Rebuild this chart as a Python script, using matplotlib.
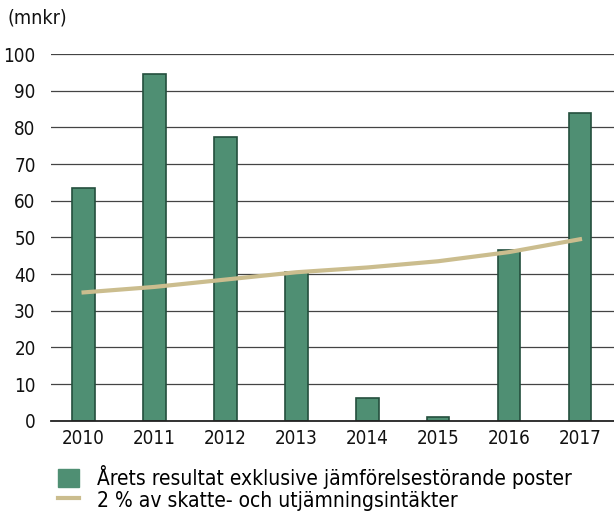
import matplotlib
matplotlib.use("Agg")
import matplotlib.pyplot as plt
from matplotlib.patches import Patch
from matplotlib.lines import Line2D

# data (mnkr)
years = ["2010", "2011", "2012", "2013", "2014", "2015", "2016", "2017"]
resultat = [63.5, 94.5, 77.5, 40.5, 6.2, 1.0, 46.5, 84.0]
two_pct = [35.0, 36.5, 38.5, 40.5, 41.8, 43.5, 46.0, 49.5]
yticks = [0, 10, 20, 30, 40, 50, 60, 70, 80, 90, 100]

bar_color = "#4f8f73"
edge_color = "#244f3d"
line_color = "#cbbd8e"

plt.rcParams["font.family"] = ["DejaVu Sans"]
plt.rcParams["font.stretch"] = "condensed"

fig = plt.figure(figsize=(6.14, 5.15), dpi=100)
ax = fig.add_axes([0.083, 0.183, 0.917, 0.712])

x = list(range(len(years)))
ax.set_axisbelow(True)
ax.yaxis.grid(True, color="#444444", linewidth=0.9)
ax.bar(x, resultat, width=0.32, color=bar_color, edgecolor=edge_color, linewidth=1.2, zorder=2)
ax.plot(x, two_pct, color=line_color, linewidth=3, zorder=3)

ax.set_ylim(0, 100)
ax.set_xlim(-0.46, 7.48)
ax.set_yticks(yticks)
ax.set_xticks(x)
ax.set_xticklabels(years)
ax.tick_params(axis="both", length=0, labelsize=13.5, colors="#111111")
ax.tick_params(axis="y", pad=11)
ax.tick_params(axis="x", pad=6)
for s in ["top", "right", "left"]:
    ax.spines[s].set_visible(False)
ax.spines["bottom"].set_color("#222222")
ax.spines["bottom"].set_linewidth(1.3)

fig.text(0.013, 0.965, "(mnkr)", fontsize=14, color="#111111", va="center")

handles = [
    Patch(facecolor=bar_color, edgecolor=bar_color),
    Line2D([0], [0], color=line_color, linewidth=3),
]
labels = ["Årets resultat exklusive jämförelsestörande poster",
          "2 % av skatte- och utjämningsintäkter"]
fig.legend(handles, labels, loc="upper left", bbox_to_anchor=(0.078, 0.117),
           frameon=False, fontsize=15, handlelength=1.0, handleheight=1.0,
           handletextpad=0.85, labelspacing=0.05, borderpad=0)

fig.savefig("out.png", dpi=100)
